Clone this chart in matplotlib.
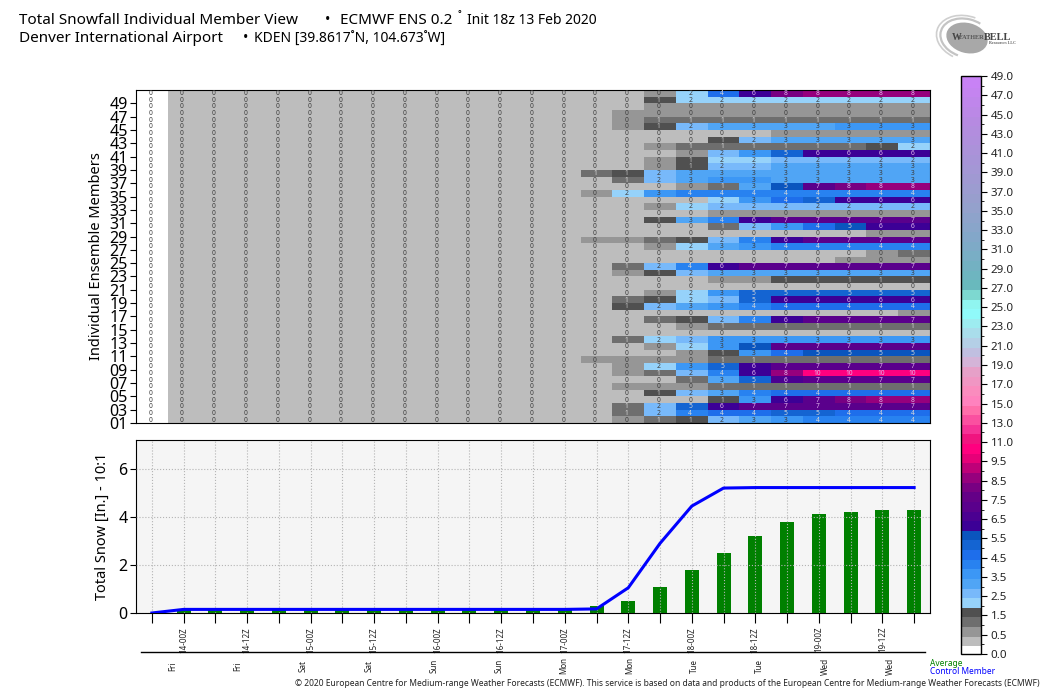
import numpy as np
import matplotlib
matplotlib.use('Agg')
import matplotlib.pyplot as plt
from matplotlib.colors import BoundaryNorm, ListedColormap, LinearSegmentedColormap, to_hex
from matplotlib.patches import Ellipse, Arc
from matplotlib.lines import Line2D

plt.rcParams['font.family'] = ['Noto Sans', 'DejaVu Sans']

# members 50 down to 1, forecast steps 14..24 (earlier steps are all trace)
late_steps = [
    [.3, .3, .7, 2.2, 4.7, 6.2, 8.2, 8.7, 8.7, 8.7, 8.7],
    [.3, .3, 1.7, 2.2, 2.2, 2.2, 2.2, 2.2, 2.2, 2.2, 2.2],
    [.3, .3, .7, .7, .7, .7, .7, .7, .7, .7, .7],
    [.3, .7, .7, .7, .7, .7, .7, .7, .7, .7, .7],
    [.3, .7, 1.2, 1.2, 1.2, 1.2, 1.2, 1.2, 1.2, 1.2, 1.2],
    [.3, .7, 1.7, 2.7, 3.2, 3.2, 3.2, 3.2, 3.7, 3.7, 3.7],
    [.3, .3, .3, .3, .3, .3, .7, .7, .7, .7, .7],
    [.3, .3, .3, .3, 1.7, 2.7, 3.2, 3.2, 3.2, 3.2, 3.2],
    [.3, .3, .7, 1.2, 1.2, 1.2, 1.2, 1.2, 1.2, 1.7, 2.2],
    [.3, .3, .3, .7, 2.7, 3.7, 5.2, 6.2, 6.2, 6.2, 6.2],
    [.3, .3, .7, 1.7, 2.2, 2.2, 2.7, 2.7, 2.7, 2.7, 2.7],
    [.3, .3, .7, 1.7, 2.7, 2.7, 3.2, 3.2, 3.2, 3.2, 3.2],
    [1.2, 1.7, 2.7, 3.2, 3.2, 3.2, 3.2, 3.2, 3.2, 3.2, 3.2],
    [.3, 1.2, 2.7, 3.2, 3.7, 3.7, 3.2, 3.2, 3.2, 3.2, 3.2],
    [.3, .3, .3, .7, 1.2, 3.2, 5.7, 7.2, 8.2, 8.7, 8.7],
    [.7, 2.2, 3.7, 4.2, 4.2, 4.2, 4.2, 4.2, 4.2, 4.2, 4.2],
    [.3, .3, .3, .3, 2.2, 3.7, 4.7, 5.2, 6.2, 6.2, 6.2],
    [.3, .3, .7, 2.2, 2.7, 2.7, 2.7, 2.7, 2.7, 2.7, 2.7],
    [.3, .3, .3, .3, .7, .7, .7, .7, .7, .7, .7],
    [.3, .3, 1.7, 3.2, 4.2, 6.2, 7.2, 7.2, 7.2, 7.2, 7.2],
    [.3, .3, .3, .3, 1.2, 2.7, 3.7, 4.7, 5.7, 6.2, 6.2],
    [.3, .3, .3, .3, .3, .3, .3, .3, .3, .7, .7],
    [.7, .7, 1.2, 1.7, 2.7, 4.2, 6.2, 7.2, 7.2, 7.2, 7.2],
    [.3, .3, .7, 2.2, 3.2, 3.7, 4.2, 4.2, 4.2, 4.2, 4.2],
    [.3, .3, .3, .3, .3, .3, .3, .3, .3, .7, 1.2],
    [.3, .3, .3, .3, .3, .3, .3, .3, .7, .7, .7],
    [.3, 1.2, 2.7, 4.2, 6.2, 7.2, 7.2, 7.2, 7.2, 7.2, 7.2],
    [.3, .7, 1.7, 2.7, 3.2, 3.2, 3.2, 3.2, 3.2, 3.2, 3.2],
    [.3, .3, .3, .3, .7, .7, 1.7, 1.7, 1.7, 1.7, 1.7],
    [.3, .3, .3, .3, .3, .3, .3, .3, .3, .3, .3],
    [.3, .3, .7, 2.2, 3.7, 5.2, 5.2, 5.2, 5.2, 5.2, 5.2],
    [.3, 1.2, 1.7, 2.2, 2.7, 5.2, 6.2, 6.2, 6.2, 6.2, 6.2],
    [.3, 1.7, 2.7, 3.2, 3.7, 4.2, 4.7, 4.7, 4.7, 4.7, 4.7],
    [.3, .3, .3, .3, .3, .3, .3, .3, .3, .3, .7],
    [.3, .3, 1.2, 1.7, 2.7, 4.2, 6.2, 7.2, 7.2, 7.2, 7.2],
    [.3, .3, .3, .7, 1.2, 1.2, 1.2, 1.2, 1.2, 1.2, 1.2],
    [.3, .3, .3, .3, .3, .3, .3, .3, .3, .3, .3],
    [.3, 1.2, 2.2, 2.7, 3.7, 3.7, 3.7, 3.7, 3.7, 3.7, 3.7],
    [.3, .3, .7, 2.2, 3.7, 5.7, 7.2, 7.2, 7.2, 7.2, 7.2],
    [.3, .3, .3, .7, 1.7, 3.7, 4.7, 5.7, 5.7, 5.7, 5.7],
    [.7, .7, .7, .7, 1.2, 1.2, 1.2, 1.2, 1.2, 1.2, 1.2],
    [.3, .7, 2.2, 3.7, 5.2, 6.2, 7.2, 7.2, 7.2, 7.2, 7.2],
    [.3, .7, 1.2, 2.7, 4.2, 6.2, 8.7, 10.2, 10.2, 10.2, 10.2],
    [.3, .3, .3, 1.2, 3.2, 5.2, 6.7, 7.2, 7.2, 7.2, 7.2],
    [.3, .7, .7, .7, 1.2, 1.2, 1.2, 1.2, 1.2, 1.2, 1.2],
    [.3, .3, 1.7, 2.7, 3.2, 4.2, 4.7, 4.7, 4.7, 4.7, 4.7],
    [.3, .3, .3, .3, 1.7, 3.7, 6.2, 7.2, 8.2, 8.7, 8.7],
    [.3, 1.2, 2.7, 5.2, 6.2, 7.2, 7.2, 7.2, 7.2, 7.2, 7.2],
    [.3, 1.2, 2.7, 4.2, 4.7, 4.7, 5.2, 5.2, 4.7, 4.7, 4.7],
    [.3, .7, 1.2, 1.7, 2.7, 3.2, 3.7, 4.2, 4.2, 4.2, 4.2],
]
first_step = [0.0]
early_steps = [.3] * 13

average = [0, .18, .18, .18, .18, .18, .18, .18, .18, .18, .18, .18, .18, .18, .3,
           .5, 1.1, 1.8, 2.5, 3.2, 3.8, 4.1, 4.2, 4.3, 4.3]
control = [0, .15, .15, .15, .15, .15, .15, .15, .15, .15, .15, .15, .15, .15, .17,
           1.05, 2.9, 4.45, 5.2, 5.22, 5.22, 5.22, 5.22, 5.22, 5.22]

run_labels = ['14-00Z', '14-12Z', '15-00Z', '15-12Z', '16-00Z', '16-12Z',
              '17-00Z', '17-12Z', '18-00Z', '18-12Z', '19-00Z', '19-12Z']
day_labels = ['Fri', 'Fri', 'Sat', 'Sat', 'Sun', 'Sun', 'Mon', 'Mon', 'Tue', 'Tue', 'Wed', 'Wed']

levels = [0, .25] + list(np.arange(.5, 10.5, .5)) + list(range(11, 50))
cbar_ticks = [0, .5] + list(np.arange(1.5, 10, 1)) + list(range(11, 50, 2))

low_colors = ['#ffffff', '#bdbdbd', '#969696', '#6e6e6e', '#505050',
              '#96d2fa', '#78b9fa', '#50a5f5', '#3c97f5', '#2882f0', '#1e6eeb', '#1464d2', '#0a55be',
              '#3c0096', '#4b0091', '#5a008c', '#640087', '#780082', '#96007d', '#be0078', '#e60078',
              '#ff007f', '#f0147f', '#f53296', '#fa50a0', '#ff6eaa', '#ff82be', '#fa8cbe', '#f096c3', '#e6a0c8',
              '#d4b4d8', '#c0bfe0', '#b4cfe6', '#a9ddeb', '#9decf0', '#90fafa', '#90f5f0', '#7dd8d0']
fade = LinearSegmentedColormap.from_list('fade', ['#69b9bd', '#7fa9c8', '#96a0cc', '#a695d6', '#b58be0', '#c882f5'])
high_colors = [to_hex(fade(i / 21)) for i in range(22)]
colors = low_colors + high_colors

W, H = 1040, 696


def box(x0, y0, x1, y1):
    return [x0 / W, 1 - y1 / H, (x1 - x0) / W, (y1 - y0) / H]


def put(x, y, s, **kw):
    kw.setdefault('va', 'center')
    fig.text(x / W, 1 - y / H, s, **kw)


fig = plt.figure(figsize=(W / 100, H / 100), dpi=100)

# member table
values = np.array([first_step + early_steps + row for row in late_steps])[::-1]
nrow, ncol = values.shape
cmap = ListedColormap(colors)
norm = BoundaryNorm(levels, cmap.N)

ax = fig.add_axes(box(136, 90, 930, 423))
mesh = ax.pcolormesh(np.arange(ncol + 1) - .5, np.arange(nrow + 1) + 1, values, cmap=cmap, norm=norm)
for r in range(nrow):
    for c in range(ncol):
        v = values[r, c]
        if v < 1 or (1.5 <= v and v < 2.5) or (2.5 <= v < 4):
            tc = '#3c3c3c'
        else:
            tc = '#d8d8d8'
        if 1.5 <= v < 2:
            tc = '#c0c0c0'
        if v >= 6:
            tc = '#e0b8ec'
        ax.text(c - .05, r + 1.45, str(int(v)), ha='center', va='center', fontsize=4.8, color=tc)
ax.set_xlim(-.5, 24.5)
ax.set_ylim(1, 51)
ax.set_xticks([])
ax.set_yticks(range(1, 50, 2))
ax.set_yticklabels(['%02d' % m for m in range(1, 50, 2)], fontsize=11.5)
ax.tick_params(axis='y', length=4, pad=2)
ax.set_ylabel('Individual Ensemble Members', fontsize=10.5, fontweight='bold', labelpad=4)

# mean and control totals
ax2 = fig.add_axes(box(136, 440, 930, 613))
ax2.set_facecolor('#f5f5f5')
ax2.bar(range(ncol), average, width=.44, color='green', zorder=2)
ax2.plot(range(ncol), control, color='blue', lw=2.2, zorder=3)
ax2.set_xlim(-.5, 24.5)
ax2.set_ylim(0, 7.2)
ax2.set_xticks(range(ncol))
ax2.set_xticklabels(['' if i % 2 == 0 else run_labels[i // 2] for i in range(ncol)],
                    rotation=90, fontsize=5.8, color='#222222')
ax2.set_yticks([0, 2, 4, 6])
ax2.tick_params(axis='y', labelsize=11.5, length=4, pad=2)
ax2.tick_params(axis='x', length=7, pad=3)
ax2.grid(True, ls=':', color='#b4b4b4', lw=.8, zorder=4)
ax2.set_axisbelow(False)
ax2.set_ylabel('Total Snow [In.] - 10:1', fontsize=10.5, fontweight='bold', labelpad=6)

fig.add_artist(Line2D([141 / W, 925 / W], [1 - 651.5 / H] * 2, color='black', lw=1))
for i, d in enumerate(day_labels):
    put(173 + i * 65.2, 666, d, rotation=90, ha='center', fontsize=5.8, color='#222222')

# colorbar
cax = fig.add_axes(box(960.5, 76, 981, 654))
cb = fig.colorbar(mesh, cax=cax, spacing='uniform', ticks=cbar_ticks, drawedges=False)
cb.ax.set_yticklabels(['%.1f' % t for t in cbar_ticks], fontsize=8.3, color='#222222')
cb.ax.tick_params(length=4, pad=3)
cb.outline.set_linewidth(1)
cb.solids.set_edgecolor('face')

# header
put(19, 20, 'Total Snowfall Individual Member View', fontsize=11, fontweight='bold')
put(325, 20, '\u2022', fontsize=10, fontweight='bold')
put(340, 20, 'ECMWF ENS 0.2', fontsize=11, fontweight='bold')
put(458, 18, '\u02da', fontsize=9)
put(467, 20, 'Init 18z 13 Feb 2020', fontsize=10)
put(19, 39, 'Denver International Airport', fontsize=11, fontweight='bold')
put(243, 39, '\u2022', fontsize=10)
put(254, 39, 'KDEN [39.8617\u02daN, 104.673\u02daW]', fontsize=10)

# logo
logo = fig.add_axes(box(930, 10, 1030, 65))
logo.set_xlim(930, 1030)
logo.set_ylim(65, 10)
logo.axis('off')
logo.add_patch(Ellipse((967, 38), 42, 30, angle=15, color='#a8a8a8', lw=0))
logo.add_patch(Arc((966, 38), 52, 38, angle=15, theta1=100, theta2=300, color='#c4c4c4', lw=1.6))
logo.add_patch(Arc((966, 38), 60, 44, angle=15, theta1=110, theta2=280, color='#cfcfcf', lw=1.2))
logo.text(952, 37, 'W', family='Liberation Serif', fontsize=7, fontweight='bold', color='#444444', va='center')
logo.text(959, 37.5, 'EATHER', family='Liberation Serif', fontsize=4.5, fontweight='bold', color='#555555', va='center')
logo.text(984, 37, 'BELL', family='Liberation Serif', fontsize=7.5, fontweight='bold', color='#444444', va='center')
logo.text(989, 43.5, 'Resources LLC', family='Liberation Serif', fontsize=3, fontweight='bold', color='#666666', va='center')

# footer
put(930, 664, 'Average', fontsize=6, fontweight='bold', color='green')
put(930, 671, 'Control Member', fontsize=6, fontweight='bold', color='blue')
put(295, 683, '\u00a9 2020 European Centre for Medium-range Weather Forecasts (ECMWF). This service is based on '
    'data and products of the European Centre for Medium-range Weather Forecasts (ECMWF)',
    fontsize=6.1, color='#222222')

fig.savefig('out.png', dpi=100)
